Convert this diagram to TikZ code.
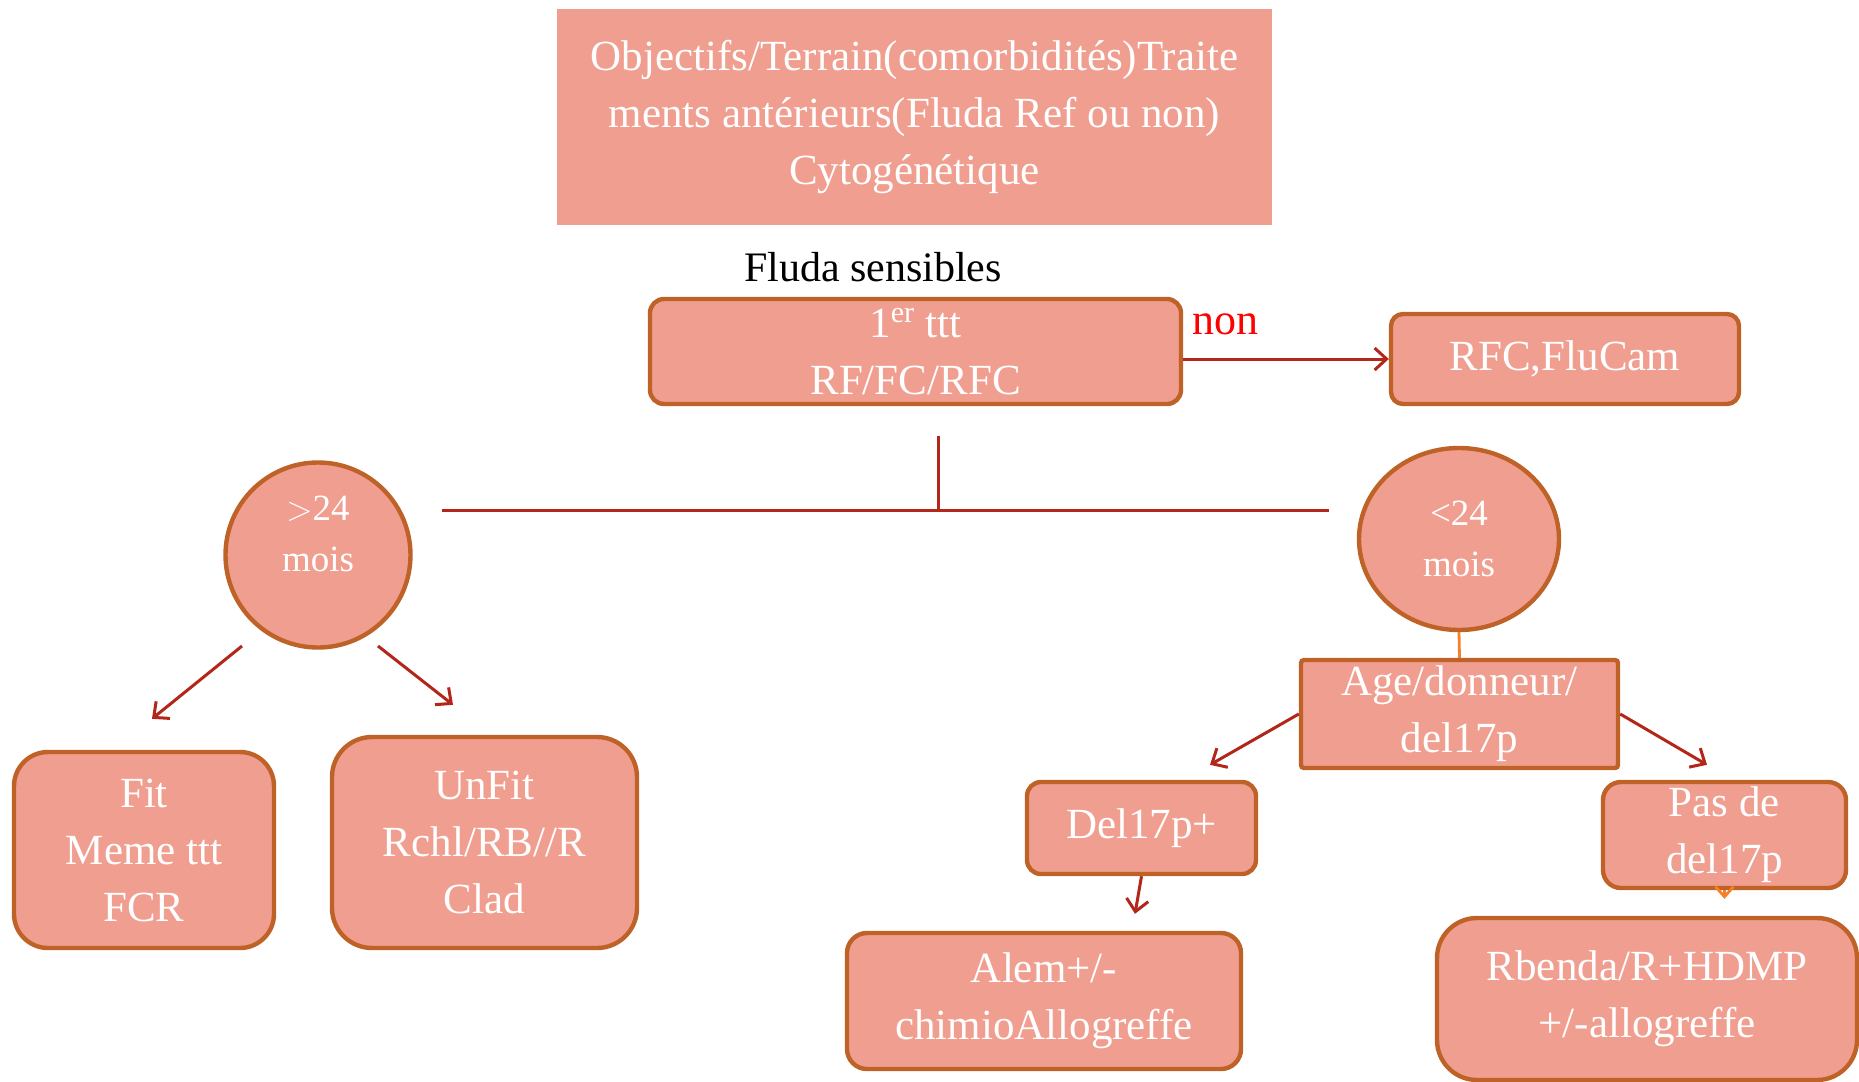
\documentclass[tikz,border=0pt]{standalone}
\usepackage{fontspec}
\setmainfont{Liberation Serif}
\usetikzlibrary{shapes.geometric,arrows.meta,calc}
\definecolor{boxfill}{HTML}{F09E90}
\definecolor{boxline}{HTML}{BE6228}
\definecolor{arcred}{HTML}{B3261A}
\definecolor{arcorange}{HTML}{F58028}

\begin{document}
\begin{tikzpicture}[x=0.5pt,y=-0.5pt,
    box/.style={draw=boxline, line width=2.2pt, fill=boxfill, text=white,
      align=center, inner sep=0pt, font=\fontsize{21.5}{28.5}\selectfont},
    bubble/.style={ellipse, draw=boxline, line width=2.2pt, fill=boxfill,
      inner sep=0pt},
    bubbletext/.style={text=white, align=center,
      font=\fontsize{18.5}{25.5}\selectfont},
    arc/.style={draw=arcred, line width=1.5pt},
    arr/.style={arc, -{Straight Barb[length=6pt,width=11pt]}},
    orangearr/.style={draw=arcorange, line width=1.4pt,
      -{Straight Barb[length=5pt,width=9pt]}},
  ]
  \useasboundingbox (0,0) rectangle (1859,1082);

  % Boxes (top)
  \node[box, draw=none, minimum width=357.5pt, minimum height=108pt] (goal) at (914.5,117)
    {Objectifs/Terrain(comorbidités)Traite\\ments antérieurs(Fluda Ref ou non)\\Cytogénétique};
  \node[font=\fontsize{21}{24}\selectfont] (fs) at (873,267) {Fluda sensibles};
  \node[box, rounded corners=7pt, minimum width=265.5pt, minimum height=52.5pt] (ttt) at (915.5,351.5)
    {1\textsuperscript{er} ttt\\RF/FC/RFC};
  \node[text=red, font=\fontsize{22}{24}\selectfont] (non) at (1225,324) {non};
  \node[box, rounded corners=6pt, minimum width=174pt, minimum height=45pt] (rfc) at (1565,359)
    {RFC,FluCam};

  % Circles
  \node[bubble, minimum width=92.5pt, minimum height=92.5pt,
    label={[bubbletext, yshift=10.5pt]center:$>$24\\mois}] (gt) at (318,555) {};
  \node[bubble, minimum width=100pt, minimum height=91pt,
    label={[bubbletext]center:<24\\mois}] (lt) at (1459,539) {};

  % Boxes (left)
  \node[box, rounded corners=17pt, minimum width=130pt, minimum height=98pt] (fit) at (144,850)
    {Fit\\Meme ttt\\FCR};
  \node[box, rounded corners=20pt, minimum width=152.5pt, minimum height=105.5pt] (unfit) at (484.5,842.5)
    {UnFit\\Rchl/RB//R\\Clad};

  % Boxes (right)
  \node[box, rounded corners=1.5pt, minimum width=158.5pt, minimum height=54pt] (age) at (1459.5,714)
    {Age/donneur/\\del17p};
  \node[box, rounded corners=7pt, minimum width=114.5pt, minimum height=46pt] (del) at (1141.5,828)
    {Del17p+};
  \node[box, rounded corners=9pt, minimum width=121.5pt, minimum height=53pt] (nodel) at (1724.5,835)
    {Pas de\\del17p};
  \node[box, rounded corners=10pt, minimum width=197pt, minimum height=68pt] (alem) at (1044,1001)
    {Alem+/-\\chimioAllogreffe};
  \node[box, rounded corners=20pt, minimum width=210pt, minimum height=81pt] (rbenda) at (1647,999)
    {Rbenda/R+HDMP\\+/-allogreffe};

  % Arcs
  \draw[arr] (ttt.east |- rfc) -- (rfc.west);

  \coordinate (fork) at (938,510);
  \draw[arc] (fork) -- ++(0,-74);
  \draw[arc, shorten <=14.5pt, shorten >=14pt] (gt.east |- fork) -- (lt.west |- fork);

  \draw[arr] ($(gt)+(-76,91)$) -- ($(fit.north)+(8,-31)$);
  \draw[arr] ($(gt)+(60,91)$) -- ($(unfit.north)+(-31.5,-30)$);

  \draw[draw=arcorange, line width=1.4pt] (lt.south) -- (age.north);
  \draw[arr] (age.west) -- ($(del.north)+(68.5,-15)$);
  \draw[arr] (age.east) -- ($(nodel.north)+(-17.5,-15)$);
  \draw[arr] (del.south) -- ($(alem.north)+(91,-17)$);
  \draw[orangearr, shorten >=8.5pt] (nodel.south) -- (nodel.south |- rbenda.north);
\end{tikzpicture}
\end{document}
